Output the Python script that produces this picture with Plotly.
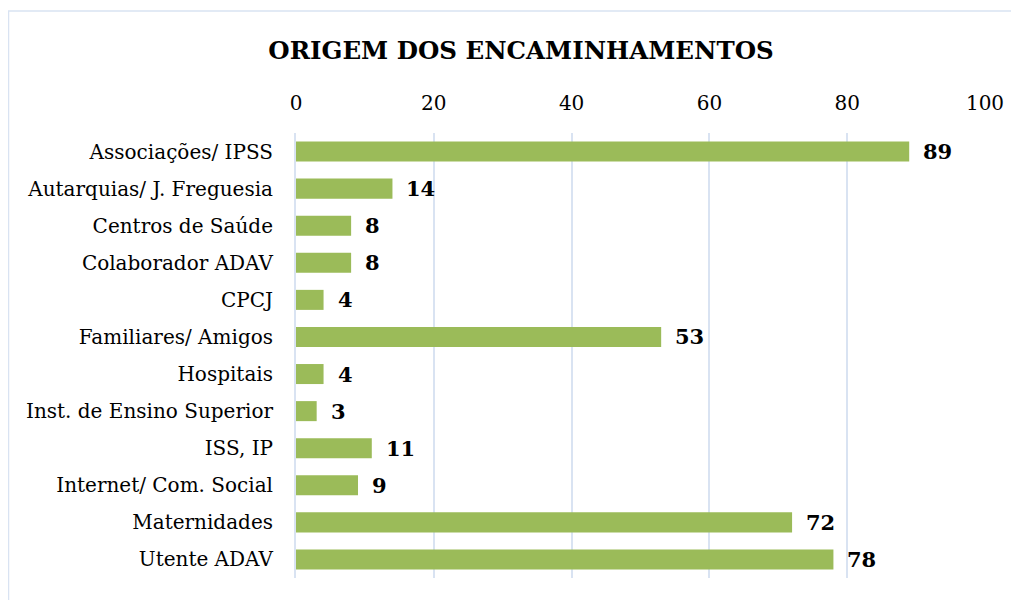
import plotly.graph_objects as go

categories = ["Associações/ IPSS", "Autarquias/ J. Freguesia", "Centros de Saúde",
              "Colaborador ADAV", "CPCJ", "Familiares/ Amigos", "Hospitais",
              "Inst. de Ensino Superior", "ISS, IP", "Internet/ Com. Social",
              "Maternidades", "Utente ADAV"]
values = [89, 14, 8, 8, 4, 53, 4, 3, 11, 9, 72, 78]
tick_vals = [0, 20, 40, 60, 80, 100]

FONT = "DejaVu Serif"
# page body has an 8px margin, so the figure is drawn 8px smaller
W, H = 1011, 592
ML, MR, MT, MB = 288, 34, 125, 22
pw, ph = W - ML - MR, H - MT - MB

fig = go.Figure()
fig.add_trace(go.Bar(
    y=categories, x=values, orientation="h",
    marker=dict(color="#9BBB59", line=dict(width=0)),
    hoverinfo="x+y",
))

for c, v in zip(categories, values):
    fig.add_annotation(x=v, y=c, text=f"<b>{v}</b>", showarrow=False,
                       xanchor="left", yanchor="middle", xshift=12,
                       font=dict(family=FONT, size=21, color="black"))

# chart border (light blue)
fig.add_shape(type="rect", xref="paper", yref="paper",
              x0=(0.5 - ML) / pw, x1=(W + 20 - ML) / pw,
              y0=-60 / ph, y1=(H - MB - 3) / ph,
              line=dict(color="#D9E3F2", width=1.5), fillcolor="rgba(0,0,0,0)", layer="below")

fig.update_layout(
    width=W, height=H,
    margin=dict(l=ML, r=MR, t=MT, b=MB),
    paper_bgcolor="white", plot_bgcolor="white",
    title=dict(text="<b>ORIGEM DOS ENCAMINHAMENTOS</b>", x=513 / W, xanchor="center",
               y=1 - 42 / H, yanchor="middle", xref="container", yref="container",
               font=dict(family=FONT, size=24.5, color="black")),
    bargap=0.46,
    showlegend=False,
    xaxis=dict(range=[0, 100], side="top", tickvals=tick_vals,
               showgrid=True, gridcolor="#D9E3F2", gridwidth=2,
               zeroline=False, showline=False, ticks="",
               ticklabelstandoff=18,
               tickfont=dict(family=FONT, size=20, color="black")),
    yaxis=dict(autorange="reversed", showline=True, linecolor="#D9E3F2", linewidth=2,
               ticks="", ticklabelstandoff=17,
               tickfont=dict(family=FONT, size=20, color="black")),
)

fig.write_html("out.html")
